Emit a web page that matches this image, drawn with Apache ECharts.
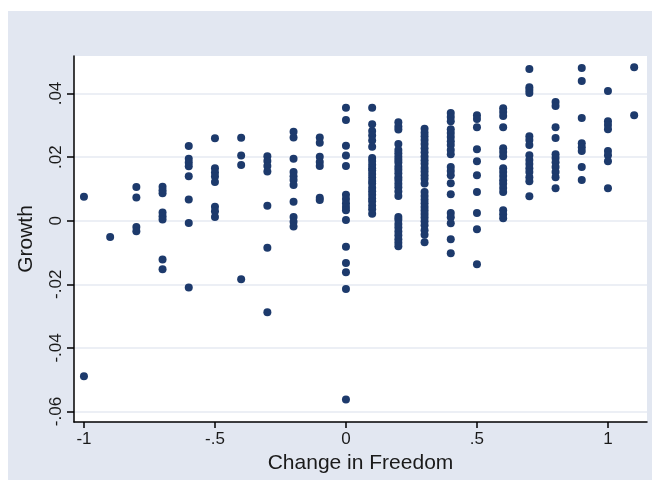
<!DOCTYPE html>
<html>
<head>
<meta charset="utf-8">
<script src="https://cdn.jsdelivr.net/npm/echarts@6/dist/echarts.min.js"></script>
<style>
  html, body { margin: 0; padding: 0; background: #fff; }
  #chart { width: 652px; height: 480px; }
</style>
</head>
<body>
<div id="chart"></div>
<script>
// change in freedom (x) for each column of points
const freedomLevels = [-1, -0.9, -0.8, -0.7, -0.6, -0.5, -0.4, -0.3, -0.2, -0.1,
  0, 0.1, 0.2, 0.3, 0.4, 0.5, 0.6, 0.7, 0.8, 0.9, 1, 1.1];

// growth values
const growthM10 = [0.0075, -0.0489];
const growthM09 = [-0.0051];
const growthM08 = [0.0106, 0.0073, -0.0020, -0.0033];
const growthM07 = [0.0107, 0.0096, 0.0086, 0.0026, 0.0014, 0.0004, -0.0122, -0.0153];
const growthM06 = [0.0235, 0.0195, 0.0183, 0.0171, 0.0140, 0.0067, -0.0007, -0.0210];
const growthM05 = [0.0259, 0.0165, 0.0152, 0.0139, 0.0122, 0.0044, 0.0030, 0.0012];
const growthM04 = [0.0261, 0.0205, 0.0175, -0.0184];
const growthM03 = [0.0203, 0.0188, 0.0172, 0.0155, 0.0047, -0.0085, -0.0288];
const growthM02 = [0.0280, 0.0262, 0.0195, 0.0153, 0.0140, 0.0128, 0.0112, 0.0060, 0.0012, -0.0003, -0.0018];
const growthM01 = [0.0262, 0.0245, 0.0201, 0.0185, 0.0172, 0.0072, 0.0065];
const growthP00 = [0.0355, 0.0317, 0.0236, 0.0205, 0.0172, 0.0082, 0.0068, 0.0055, 0.0043, 0.0033,
  0.0002, -0.0082, -0.0133, -0.0162, -0.0215, -0.0562];
const growthP01 = [0.0355, 0.0303, 0.0282, 0.0268, 0.0252, 0.0233, 0.0197, 0.0188, 0.0176, 0.0165,
  0.0158, 0.0147, 0.0136, 0.0125, 0.0117, 0.0104, 0.0093, 0.0082, 0.0070, 0.0061, 0.0048, 0.0036, 0.0022];
const growthP02 = [0.0310, 0.0296, 0.0287, 0.0241, 0.0222, 0.0212, 0.0201, 0.0192, 0.0183, 0.0170,
  0.0160, 0.0149, 0.0137, 0.0128, 0.0116, 0.0105, 0.0092, 0.0078, 0.0012, 0.0003, -0.0010, -0.0021,
  -0.0034, -0.0046, -0.0058, -0.0069, -0.0080];
const growthP03 = [0.0289, 0.0277, 0.0266, 0.0254, 0.0241, 0.0228, 0.0215, 0.0202, 0.0190, 0.0179,
  0.0166, 0.0155, 0.0143, 0.0132, 0.0117, 0.0090, 0.0078, 0.0066, 0.0055, 0.0043, 0.0032, 0.0021,
  0.0010, -0.0002, -0.0014, -0.0030, -0.0044, -0.0068];
const growthP04 = [0.0339, 0.0326, 0.0313, 0.0288, 0.0276, 0.0263, 0.0250, 0.0238, 0.0222, 0.0209,
  0.0169, 0.0156, 0.0143, 0.0118, 0.0083, 0.0024, 0.0011, -0.0008, -0.0058, -0.0102];
const growthP05 = [0.0332, 0.0320, 0.0294, 0.0225, 0.0187, 0.0143, 0.0090, 0.0024, -0.0027, -0.0137];
const growthP06 = [0.0354, 0.0342, 0.0329, 0.0294, 0.0228, 0.0216, 0.0203, 0.0165, 0.0153, 0.0141,
  0.0127, 0.0116, 0.0103, 0.0090, 0.0033, 0.0020, 0.0008];
const growthP07 = [0.0477, 0.0420, 0.0411, 0.0402, 0.0266, 0.0254, 0.0238, 0.0206, 0.0191, 0.0178,
  0.0165, 0.0153, 0.0137, 0.0124, 0.0077];
const growthP08 = [0.0373, 0.0361, 0.0294, 0.0260, 0.0209, 0.0197, 0.0184, 0.0169, 0.0153, 0.0137, 0.0102];
const growthP09 = [0.0480, 0.0439, 0.0323, 0.0244, 0.0231, 0.0219, 0.0169, 0.0128];
const growthP10 = [0.0408, 0.0313, 0.0301, 0.0288, 0.0219, 0.0206, 0.0187, 0.0102];
const growthP11 = [0.0483, 0.0332];

const growthColumns = [growthM10, growthM09, growthM08, growthM07, growthM06, growthM05,
  growthM04, growthM03, growthM02, growthM01, growthP00, growthP01, growthP02, growthP03,
  growthP04, growthP05, growthP06, growthP07, growthP08, growthP09, growthP10, growthP11];

// tick values and their Stata-style labels
const xTicks = [-1, -0.5, 0, 0.5, 1];
const xTickLabels = ["-1", "-.5", "0", ".5", "1"];
const yTicks = [-0.06, -0.04, -0.02, 0, 0.02, 0.04];
const yTickLabels = ["-.06", "-.04", "-.02", "0", ".02", ".04"];

const points = [];
freedomLevels.forEach((x, i) => {
  growthColumns[i].forEach((g) => points.push([x, g]));
});

const chart = echarts.init(document.getElementById("chart"));

const labelFont = "'Liberation Sans', Arial, sans-serif";

const option = {
  backgroundColor: "#ffffff",
  animation: false,
  graphic: [
    {
      type: "rect",
      z: -10,
      silent: true,
      shape: { x: 8, y: 11, width: 644, height: 469 },
      style: { fill: "#e2e7f1" },
    },
  ],
  grid: {
    left: 74,
    right: 5,
    top: 56,
    bottom: 58,
    outerBoundsMode: "none",
    containLabel: false,
    show: true,
    backgroundColor: "#ffffff",
    borderWidth: 0,
  },
  xAxis: {
    type: "value",
    min: -1.038,
    max: 1.149,
    name: "Change in Freedom",
    nameLocation: "middle",
    nameGap: 31,
    nameTextStyle: { fontFamily: labelFont, fontSize: 21, color: "#1a1a1a" },
    axisLine: { show: true, onZero: false, lineStyle: { color: "#000", width: 1.5 } },
    axisTick: { show: true, length: 6, customValues: xTicks, lineStyle: { color: "#000", width: 1.5 } },
    axisLabel: {
      customValues: xTicks,
      margin: 9,
      fontFamily: labelFont,
      fontSize: 17,
      color: "#1a1a1a",
      formatter: (v) => xTickLabels[xTicks.findIndex((t) => Math.abs(t - v) < 1e-9)],
    },
    splitLine: { show: false },
  },
  yAxis: {
    type: "value",
    min: -0.0633,
    max: 0.0518,
    name: "Growth",
    nameLocation: "middle",
    nameGap: 37,
    nameTextStyle: { fontFamily: labelFont, fontSize: 21, color: "#1a1a1a" },
    axisLine: { show: true, onZero: false, lineStyle: { color: "#000", width: 1.5 } },
    axisTick: { show: true, length: 7, customValues: yTicks, lineStyle: { color: "#000", width: 1.5 } },
    axisLabel: {
      customValues: yTicks,
      rotate: 90,
      margin: 9,
      fontFamily: labelFont,
      fontSize: 17,
      color: "#1a1a1a",
      formatter: (v) => yTickLabels[yTicks.findIndex((t) => Math.abs(t - v) < 1e-9)],
    },
    splitLine: { show: true, lineStyle: { color: "#e6eaf2", width: 1.5 } },
  },
  series: [
    {
      type: "scatter",
      data: points,
      symbol: "circle",
      symbolSize: 8,
      itemStyle: { color: "#1d3a6c", opacity: 1 },
      silent: true,
    },
  ],
};

chart.setOption(option);
</script>
</body>
</html>
